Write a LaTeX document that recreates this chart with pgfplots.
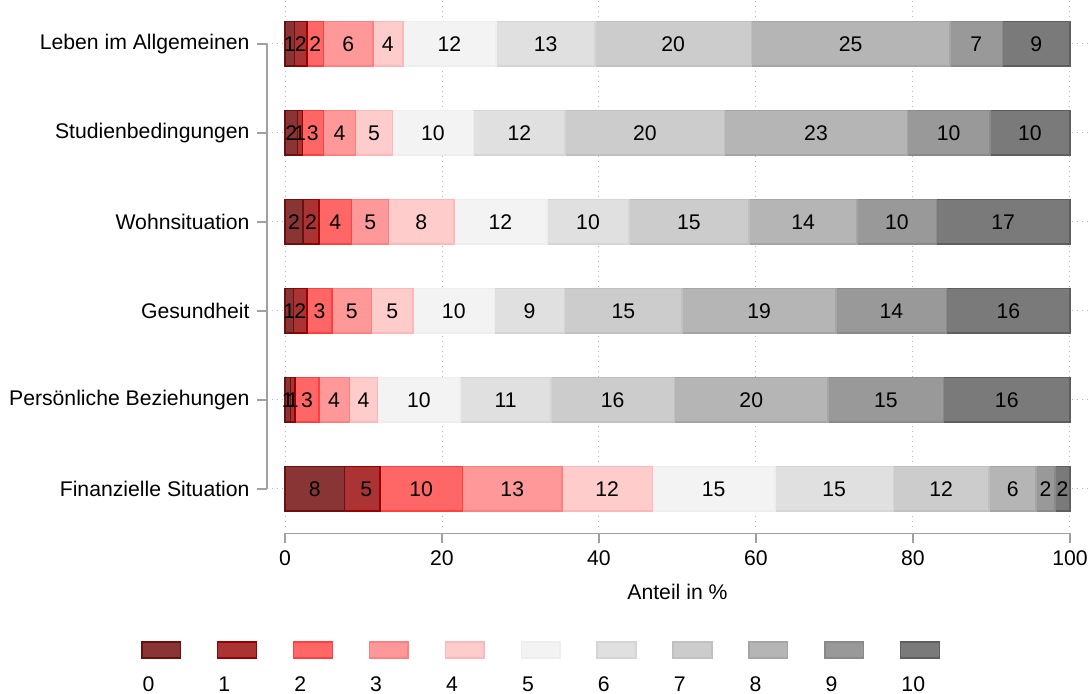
\documentclass[border=0pt]{standalone}
\usepackage{pgfplots}
\pgfplotsset{compat=1.18}
\usepackage{pgfplotstable}
\usepackage{fontspec}
\setmainfont{Liberation Sans}

\definecolor{f0}{HTML}{893535}\definecolor{d0}{HTML}{6B0F0F}
\definecolor{f1}{HTML}{AB3333}\definecolor{d1}{HTML}{990000}
\definecolor{f2}{HTML}{FF6666}\definecolor{d2}{HTML}{FF4040}
\definecolor{f3}{HTML}{FF9999}\definecolor{d3}{HTML}{FF8080}
\definecolor{f4}{HTML}{FFCCCC}\definecolor{d4}{HTML}{FFB8B8}
\definecolor{f5}{HTML}{F3F3F3}\definecolor{d5}{HTML}{EEEEEE}
\definecolor{f6}{HTML}{E0E0E0}\definecolor{d6}{HTML}{D5D5D5}
\definecolor{f7}{HTML}{CCCCCC}\definecolor{d7}{HTML}{C0C0C0}
\definecolor{f8}{HTML}{B5B5B5}\definecolor{d8}{HTML}{A5A5A5}
\definecolor{f9}{HTML}{999999}\definecolor{d9}{HTML}{8A8A8A}
\definecolor{f10}{HTML}{7A7A7A}\definecolor{d10}{HTML}{5E5E5E}
\definecolor{axisgray}{HTML}{A0A0A0}
\definecolor{gridgray}{HTML}{B8B8B8}

\newcommand{\fs}{\fontsize{10.6}{12.7}\selectfont}

\pgfplotstableread{
pos s0 s1 s2 s3 s4 s5 s6 s7 s8 s9 s10
5 1.2 1.6 2.1 6.3 3.8 11.9 12.6 19.9 25.3 6.7 8.6
4 1.6 0.6 2.7 4.1 4.7 10.3 11.7 20.3 23.3 10.5 10.2
3 2.3 2.0 4.2 4.7 8.3 11.9 10.4 15.3 13.8 10.1 17.0
2 1.1 1.7 3.2 5.0 5.3 10.4 8.9 15.0 19.6 14.1 15.7
1 0.7 0.6 3.0 3.9 3.6 10.5 11.6 15.7 19.6 14.7 16.1
0 7.6 4.5 10.5 12.7 11.5 15.6 15.1 12.2 6.0 2.4 1.9
}\shares

\pgfplotstableread{
pos mid lab
5 0.6 1
5 2.0 2
5 3.85 2
5 8.05 6
5 13.1 4
5 20.95 12
5 33.2 13
5 49.45 20
5 72.05 25
5 88.05 7
5 95.7 9
4 0.8 2
4 1.9 1
4 3.55 3
4 6.95 4
4 11.35 5
4 18.85 10
4 29.85 12
4 45.85 20
4 67.65 23
4 84.55 10
4 94.9 10
3 1.15 2
3 3.3 2
3 6.4 4
3 10.85 5
3 17.35 8
3 27.45 12
3 38.6 10
3 51.45 15
3 66.0 14
3 77.95 10
3 91.5 17
2 0.55 1
2 1.95 2
2 4.4 3
2 8.5 5
2 13.65 5
2 21.5 10
2 31.15 9
2 43.1 15
2 60.4 19
2 77.25 14
2 92.15 16
1 0.35 1
1 1.0 1
1 2.8 3
1 6.25 4
1 10.0 4
1 17.05 10
1 28.1 11
1 41.75 16
1 59.4 20
1 76.55 15
1 91.95 16
0 3.8 8
0 10.35 5
0 17.35 10
0 28.95 13
0 41.05 12
0 54.6 15
0 69.95 15
0 83.6 12
0 92.7 6
0 96.9 2
0 99.05 2
}\labels

\pgfplotsset{
  common/.style={x=3.925pt, y=44.5pt, xmin=-2.293, xmax=102.55,
    ymin=-0.43, ymax=5.494, scale only axis, clip=false},
}

\begin{document}
\fs
\begin{tikzpicture}
\begin{axis}[common,
  xbar stacked, bar width=0.5,
  axis x line*=bottom, axis y line*=left,
  axis x line shift=3.1pt,
  axis line style={draw=none},
  tick align=outside, major tick length=5pt,
  tick style={draw=axisgray, line width=0.75pt},
  xtick={0,20,...,100},
  ytick={0,...,5},
  yticklabels={Finanzielle Situation, Persönliche Beziehungen, Gesundheit, Wohnsituation, Studienbedingungen, Leben im Allgemeinen},
  xmajorgrids, ymajorgrids,
  major grid style={draw=gridgray, line width=0.5pt, dash pattern=on 0.5pt off 2pt},
  /pgf/number format/assume math mode=true,
  tick label style={font=\fs},
  xlabel={Anteil in \%},
  xlabel style={at={(axis cs:50,-1.157)}, anchor=center, font=\fs},
  legend columns=11,
  legend cell align=left,
  legend style={at={(axis cs:-18.34,-2.11)}, anchor=north west, draw=none, fill=none,
    inner sep=0pt, outer sep=0pt, font=\fs,
    nodes={inner sep=0pt, text width=37.2pt, align=left},
    /tikz/every odd column/.style={column sep=0pt},
    /tikz/every even column/.style={column sep=0pt}},
  every axis plot post/.append style={line width=0.75pt,
    legend image code/.code={\path (0pt,0pt); \draw[##1, overlay] (0pt,13.85pt) rectangle (19.35pt,21.85pt);}},
]
\addplot[fill=f0, draw=d0] table[x=s0, y=pos]{\shares};
\addplot[fill=f1, draw=d1] table[x=s1, y=pos]{\shares};
\addplot[fill=f2, draw=d2] table[x=s2, y=pos]{\shares};
\addplot[fill=f3, draw=d3] table[x=s3, y=pos]{\shares};
\addplot[fill=f4, draw=d4] table[x=s4, y=pos]{\shares};
\addplot[fill=f5, draw=d5] table[x=s5, y=pos]{\shares};
\addplot[fill=f6, draw=d6] table[x=s6, y=pos]{\shares};
\addplot[fill=f7, draw=d7] table[x=s7, y=pos]{\shares};
\addplot[fill=f8, draw=d8] table[x=s8, y=pos]{\shares};
\addplot[fill=f9, draw=d9] table[x=s9, y=pos]{\shares};
\addplot[fill=f10, draw=d10] table[x=s10, y=pos]{\shares};
\legend{0,1,2,3,4,5,6,7,8,9,10}
\draw[axisgray, line width=0.75pt] (axis cs:-2.293,0) -- (axis cs:-2.293,5);
\draw[axisgray, line width=0.75pt] (axis cs:0,-0.5) -- (axis cs:100,-0.5);
\coordinate (bbA) at (axis cs:-36.31,5.494);
\coordinate (bbB) at (axis cs:102.68,-2.303);
\end{axis}
\begin{axis}[common, hide axis]
\addplot[draw=none, mark=none, nodes near coords, point meta=explicit symbolic,
  nodes near coords align={center},
  every node near coord/.append style={font=\fs, inner sep=0pt, text=black}]
  table[x=mid, y=pos, meta=lab]{\labels};
\end{axis}
\pgfresetboundingbox
\path[use as bounding box] (bbA) rectangle (bbB);
\end{tikzpicture}
\end{document}
